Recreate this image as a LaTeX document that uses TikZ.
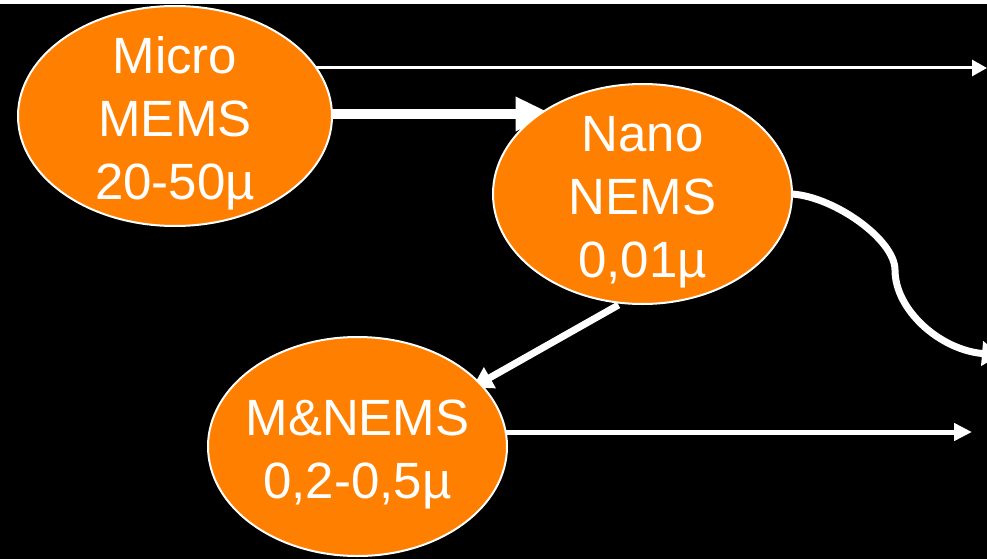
\documentclass[tikz,border=0pt]{standalone}
\usepackage{fontspec}
\setmainfont{Liberation Sans}
\usetikzlibrary{shapes.geometric,arrows.meta,calc}
\pgfdeclarelayer{back}
\pgfsetlayers{back,main}
\definecolor{blobfill}{RGB}{255,128,0}
\begin{document}
\begin{tikzpicture}[x=1pt,y=-1pt,
  blob/.style={ellipse, fill=blobfill, draw=white, line width=2pt,
               inner sep=0pt, outer sep=0pt},
  lbl/.style={text=white, align=center, inner sep=0pt, anchor=north,
              font=\fontsize{51}{63}\selectfont},
  link/.style={draw=white, line cap=butt}]
\useasboundingbox (0,0) rectangle (987,559);

% scale levels
\node[blob, minimum width=314pt, minimum height=220pt] (micro) at (175,116) {};
\node[blob, minimum width=299pt, minimum height=220pt] (nano)  at (642.5,194) {};
\node[blob, minimum width=299pt, minimum height=219pt] (mnems) at (357.5,446.5) {};

\node[lbl] (microtxt) at ($(micro.center)+(0,-79.5)$) {Micro\\MEMS\\20-50µ};
\node[lbl] (nanotxt)  at ($(nano.center)+(0,-77.5)$)  {Nano\\NEMS\\0,01µ};
\node[lbl] (mnemstxt) at ($(mnems.center)+(0,-46.5)$) {M\&NEMS\\0,2-0,5µ};

% free ends of the outgoing connectors
\coordinate (topend)   at (987,68);
\coordinate (botend)   at (972,432);
\coordinate (bend)     at (895,270);
\coordinate (curveend) at (1000,355);
\coordinate (nanoin)   at ($(nano.center)+(-90,-80)$);
\coordinate (nanoout)  at ($(nano.center)+(-24,111)$);
\coordinate (mnemsin)  at ($(mnems.center)+(115,-59)$);

\begin{pgfonlayer}{back}
  \fill[black] (0,0) rectangle (987,559);
  \fill[white] (0,0) rectangle (987,4);
  \clip (0,0) rectangle (987,559);

  \draw[link, line width=3pt, -{Triangle[length=15pt,width=16pt]}]
    (micro.center |- topend) -- (topend);
  \draw[link, line width=10pt, -{Triangle[length=37pt,width=32pt]}]
    (micro.center |- nanoin) -- (nanoin);
  \draw[link, line width=7pt, -{Triangle[length=20pt,width=23pt]}]
    (nanoout) -- (mnemsin);
  \draw[link, line width=7pt, -{Triangle[length=18pt,width=24pt]}]
    (nano.east) .. controls (835,197) and (895,240) .. (bend)
                .. controls (895,310) and (940,350) .. (curveend);
  \draw[link, line width=5pt, -{Triangle[length=18pt,width=17pt]}]
    (mnems.center |- botend) -- (botend);
\end{pgfonlayer}
\end{tikzpicture}
\end{document}
